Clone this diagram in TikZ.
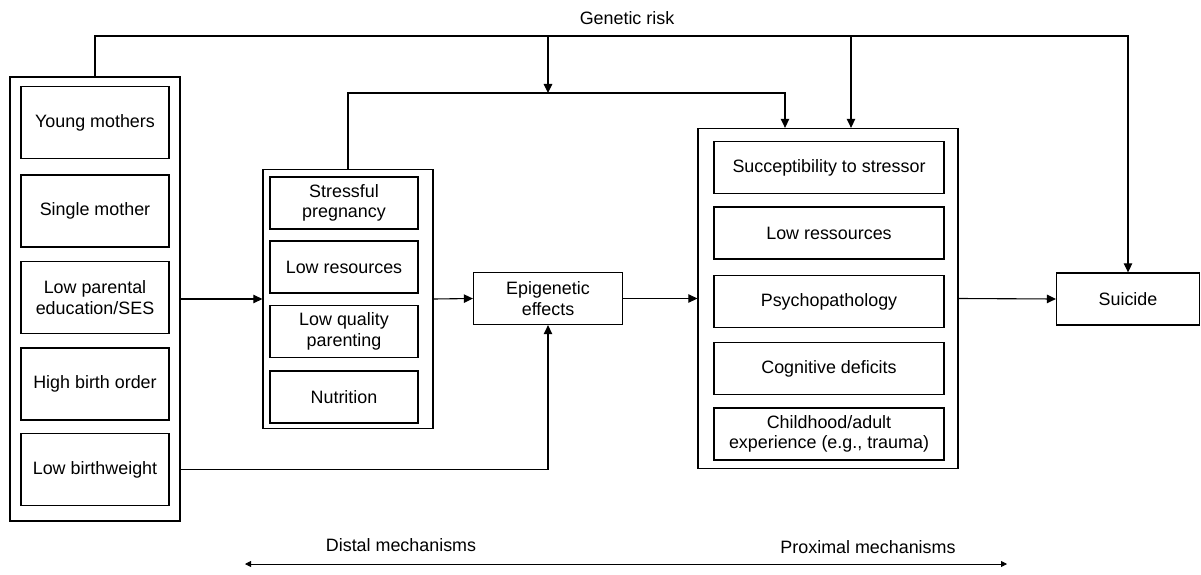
\documentclass[tikz,border=0pt]{standalone}
\usepackage{fontspec}
\setmainfont{Liberation Sans}
\usetikzlibrary{arrows.meta}

\begin{document}
\begin{tikzpicture}[x=1pt,y=-1pt,
    font=\fontsize{17.9}{20.5}\selectfont,
    every node/.style={align=center,inner sep=0pt},
    frame/.style={draw,line width=1.3pt},
    item/.style={frame,minimum height=52pt},
    link/.style={line width=1.1pt},
    arr/.style={link,-{Triangle[length=9pt,width=8.5pt]}}]
  \useasboundingbox (0,0) rectangle (1201,575);

  % distal risk factors
  \node[frame,minimum width=170pt,minimum height=444pt] (fam) at (95,299) {};
  \node[item,minimum width=148pt,minimum height=72pt] (young) at (95,122.5) {Young mothers};
  \node[item,minimum width=148pt,minimum height=72pt] (single) at (95,211) {Single mother};
  \node[item,minimum width=148pt,minimum height=72pt] (educ) at (95,297.5) {Low parental\\education/SES};
  \node[item,minimum width=148pt,minimum height=72pt] (order) at (95,384) {High birth order};
  \node[item,minimum width=148pt,minimum height=72pt] (weight) at (95,469.5) {Low birthweight};

  % prenatal / early environment
  \node[frame,minimum width=170pt,minimum height=259pt] (prenatal) at (348,299) {};
  \node[item,minimum width=148pt] (stress) at (344,203) {Stressful\\pregnancy};
  \node[item,minimum width=148pt] (resources) at (344,267) {Low resources};
  \node[item,minimum width=148pt] (quality) at (344,331.5) {Low quality\\parenting};
  \node[item,minimum width=148pt] (nutrition) at (344,397) {Nutrition};

  \node[item,minimum width=149pt] (epi) at (548,298.5) {Epigenetic\\effects};

  % proximal factors
  \node[frame,minimum width=260pt,minimum height=340pt] (proximal) at (828,298.5) {};
  \node[item,minimum width=230pt] (succ) at (829,167.5) {Succeptibility to stressor};
  \node[item,minimum width=230pt] (lowres) at (829,233) {Low ressources};
  \node[item,minimum width=230pt] (psycho) at (829,301.5) {Psychopathology};
  \node[item,minimum width=230pt] (cogn) at (829,368.5) {Cognitive deficits};
  \node[item,minimum width=230pt] (child) at (829,434) {Childhood/adult\\experience (e.g., trauma)};

  \node[item,minimum width=143pt] (suicide) at (1128,299) {Suicide};

  % genetic risk
  \coordinate (gr) at (1128,36);
  \coordinate (g1) at (548,36);
  \coordinate (g2) at (851,36);
  \coordinate (m1) at (548,93);
  \coordinate (m2) at (785,93);
  \node (genetic) at (627,18) {Genetic risk};
  \draw[arr] (fam.north) |- (gr) -- (suicide.north);
  \draw[arr] (g1) -- (m1);
  \draw[arr] (g2) -- (g2 |- proximal.north);
  \draw[arr] (prenatal.north) |- (m2) -- (m2 |- proximal.north);

  % main chain
  \draw[arr] (fam.east) -- (prenatal.west);
  \draw[arr] (prenatal.east) -- (epi.west);
  \draw[arr] (epi.east) -- (proximal.west);
  \draw[arr] (proximal.east) -- (suicide.west);
  \draw[arr] (fam.east |- weight) -| (epi.south);

  % distal vs proximal axis
  \coordinate (dl) at (245,564);
  \coordinate (dr) at (1007,564);
  \node (distal) at (401,545) {Distal mechanisms};
  \node (prox) at (868,547) {Proximal mechanisms};
  \draw[line width=0.8pt,{Triangle[length=6pt,width=6pt]}-{Triangle[length=6pt,width=6pt]}] (dl) -- (dr);
\end{tikzpicture}
\end{document}
